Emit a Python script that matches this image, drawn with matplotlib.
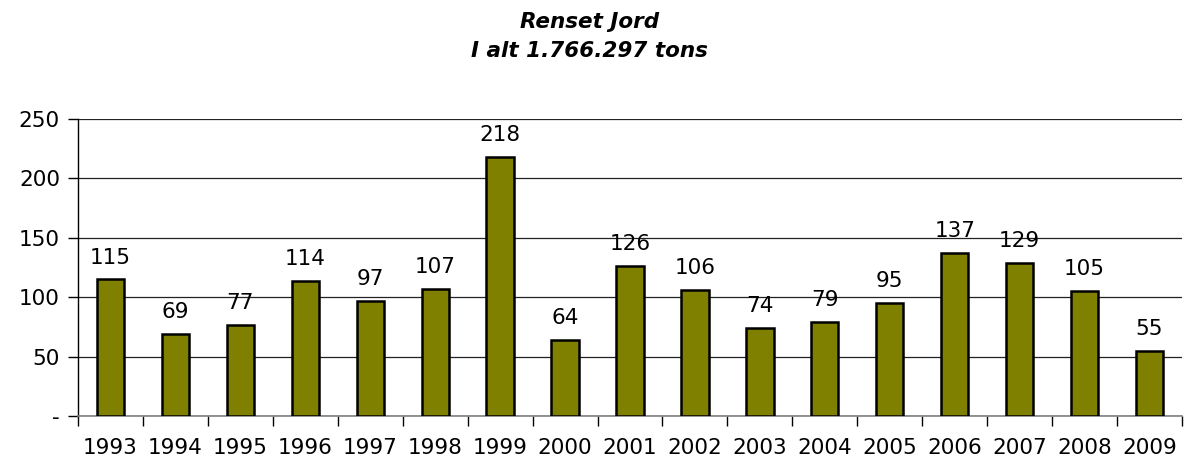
import numpy as np
import matplotlib.pyplot as plt

years = ["1993", "1994", "1995", "1996", "1997", "1998", "1999", "2000", "2001",
         "2002", "2003", "2004", "2005", "2006", "2007", "2008", "2009"]
values = [115, 69, 77, 114, 97, 107, 218, 64, 126, 106, 74, 79, 95, 137, 129, 105, 55]
y_ticks = [0, 50, 100, 150, 200, 250]
y_labels = ["-", "50", "100", "150", "200", "250"]

plt.rcParams['font.family'] = ['Verdana', 'DejaVu Sans']

fig = plt.figure(figsize=(11.86, 4.59), dpi=100)
ax = fig.add_axes([0.0658, 0.0937, 0.9308, 0.647])

x = np.arange(len(years))
ax.bar(x, values, width=0.42, color="#808000", edgecolor="black", linewidth=1.8, zorder=3)
for xi, v in zip(x, values):
    ax.text(xi, v + 10, str(v), ha="center", va="bottom", fontsize=15.5)

ax.set_xlim(-0.5, len(years) - 0.5)
ax.set_ylim(0, 250)
ax.set_yticks(y_ticks)
ax.set_yticklabels(y_labels, fontsize=15.5)
ax.set_xticks(x)
ax.set_xticklabels(years, fontsize=15.5)
ax.tick_params(axis="x", length=0, pad=16)
ax.set_xticks(np.arange(len(years) + 1) - 0.5, minor=True)
ax.tick_params(axis="x", which="minor", length=7, width=1, color="black")
ax.tick_params(axis="y", length=7, width=1, pad=6)
ax.grid(axis="y", color="#222222", linewidth=0.9, zorder=0)

for s in ["top", "right"]:
    ax.spines[s].set_visible(False)
ax.spines["left"].set_linewidth(1)
ax.spines["bottom"].set_color("#808080")
ax.spines["bottom"].set_linewidth(1.2)

fig.text(0.497, 0.953, "Renset Jord", ha="center", va="center", fontsize=15.5,
         fontweight="bold", fontstyle="italic")
fig.text(0.497, 0.888, "I alt 1.766.297 tons", ha="center", va="center", fontsize=15.5,
         fontweight="bold", fontstyle="italic")

plt.savefig("out.png", dpi=100)
